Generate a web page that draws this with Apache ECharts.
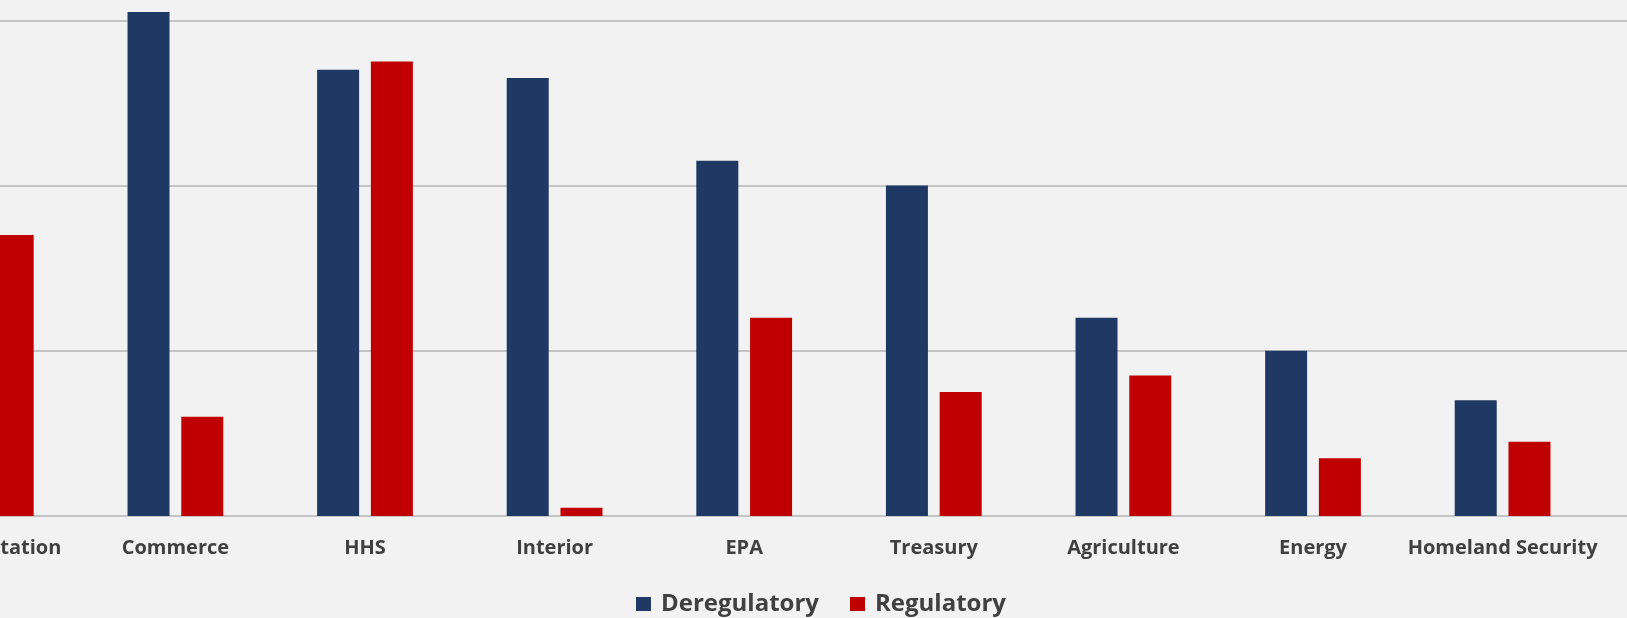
<!DOCTYPE html>
<html>
<head>
<meta charset="utf-8">
<script src="https://cdn.jsdelivr.net/npm/echarts@6/dist/echarts.min.js"></script>
<style>
  html, body { margin: 0; padding: 0; background: #f2f2f2; overflow: hidden; }
  /* the original picture is a crop: left and top of the chart are cut off */
  #chart { position: absolute; left: -109px; top: -145px; width: 1736px; height: 763px; }
</style>
</head>
<body>
<div id="chart"></div>
<script>
// agencies (first one is cut off on the left in the original picture)
var categories = ['Transportation', 'Commerce', 'HHS', 'Interior', 'EPA', 'Treasury', 'Agriculture', 'Energy', 'Homeland Security'];
var deregulatory = [null, 61, 54, 53, 43, 40, 24, 20, 14];
var regulatory = [34, 12, 55, 1, 24, 15, 17, 7, 9];
var yTicks = [0, 20, 40, 60, 80];

var labelFont = '"Open Sans", "Liberation Sans", Arial, sans-serif';

var chart = echarts.init(document.getElementById('chart'));
chart.setOption({
  backgroundColor: '#f2f2f2',
  animation: false,
  color: ['#1f3864', '#c00000'],
  legend: {
    data: ['Deregulatory', 'Regulatory'],
    left: 740,
    top: 732,
    itemWidth: 15,
    itemHeight: 14,
    itemGap: 31,
    icon: 'rect',
    textStyle: {
      color: '#404040',
      fontSize: 24,
      fontWeight: 'bold',
      fontFamily: labelFont,
      padding: [0, 0, 0, 5],
    },
  },
  grid: [
    // bars
    { left: 0, width: 9 * 189.6, top: 0, height: 661 },
    // only for the gridlines running edge to edge
    { left: 0, right: 0, top: 0, height: 661 },
  ],
  xAxis: [
    {
      type: 'category',
      gridIndex: 0,
      data: categories,
      axisLine: { show: false },
      axisTick: { show: false },
      axisLabel: {
        color: '#404040',
        fontSize: 20,
        fontWeight: 'bold',
        fontFamily: labelFont,
        margin: 22,
        interval: 0,
      },
    },
    { type: 'value', gridIndex: 1, show: false, min: 0, max: 1 },
  ],
  yAxis: [
    {
      type: 'value',
      gridIndex: 0,
      min: yTicks[0],
      max: yTicks[yTicks.length - 1],
      interval: 20,
      show: false,
      splitLine: { show: false },
    },
    {
      type: 'value',
      gridIndex: 1,
      min: yTicks[0],
      max: yTicks[yTicks.length - 1],
      interval: 20,
      axisLine: { show: false },
      axisTick: { show: false },
      axisLabel: { show: false },
      splitLine: { show: true, lineStyle: { color: '#c4c4c4', width: 2 } },
    },
  ],
  series: [
    {
      name: 'Deregulatory',
      type: 'bar',
      xAxisIndex: 0,
      yAxisIndex: 0,
      barWidth: 42,
      barGap: '28%',
      data: deregulatory,
    },
    {
      name: 'Regulatory',
      type: 'bar',
      xAxisIndex: 0,
      yAxisIndex: 0,
      barWidth: 42,
      barGap: '28%',
      data: regulatory,
    },
  ],
});
</script>
</body>
</html>
